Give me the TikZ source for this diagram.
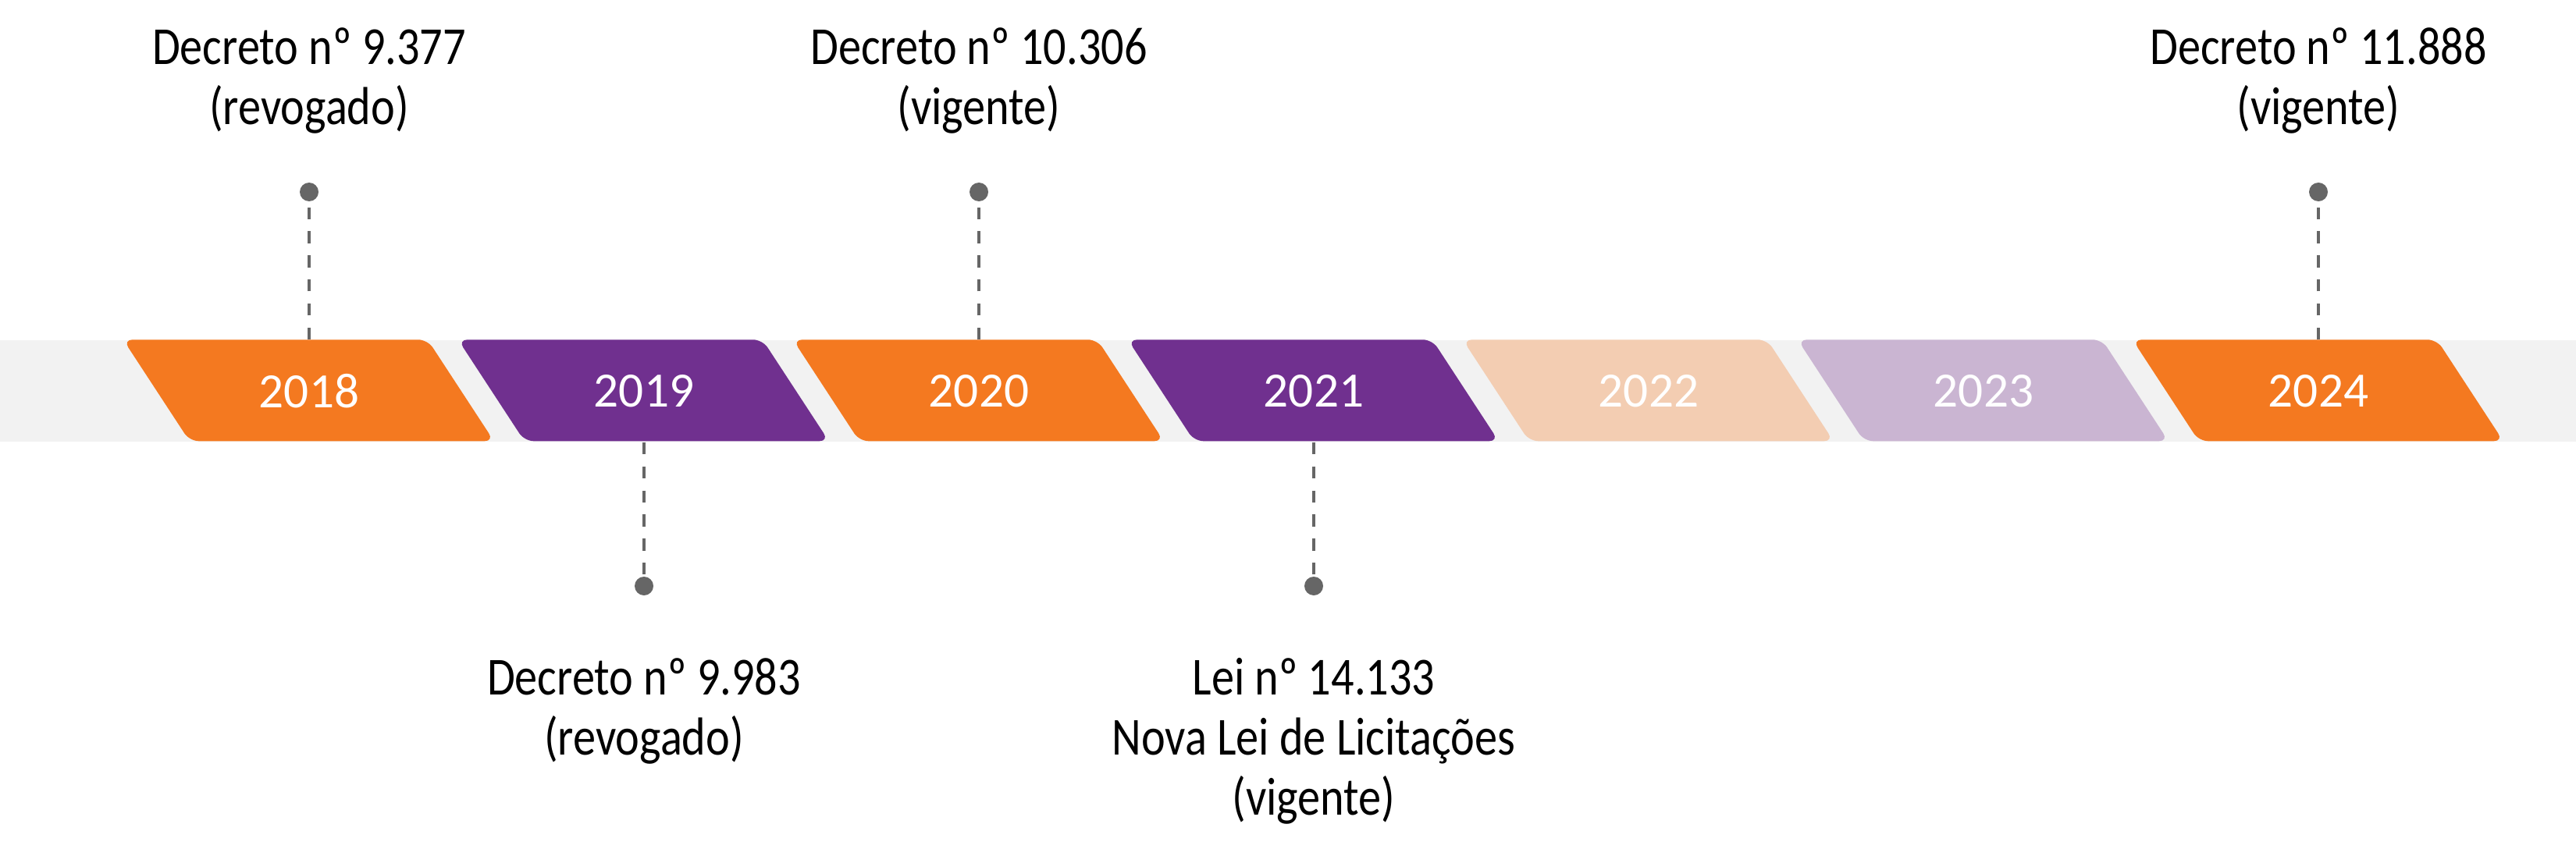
\documentclass[tikz,border=0pt]{standalone}
\usepackage{fontspec}
\usepackage{tikz}
\usetikzlibrary{backgrounds,positioning}
\newfontfamily\yearfont{Carlito}
\newfontfamily\notefont[FakeStretch=0.85]{Carlito}
\definecolor{lawOrange}{HTML}{F47920}
\definecolor{lawPurple}{HTML}{70308F}
\definecolor{paleOrange}{HTML}{F3CDB2}
\definecolor{palePurple}{HTML}{CAB5D2}
\definecolor{bandGray}{HTML}{F2F2F2}
\definecolor{pinGray}{HTML}{666666}
\tikzset{%
	yearbox/.style   = {rectangle, minimum width=3.9cm, minimum height=1.3cm, inner sep=0pt, text=white, font=\yearfont\fontsize{18}{20}\selectfont}, % year label
	yearshape/.style = {rounded corners=3.4pt}, % slanted tab
	pindot/.style    = {circle, fill=pinGray, inner sep=0pt, minimum size=0.24cm}, % dot
	leader/.style    = {draw=pinGray, line width=0.95pt, dash pattern=on 4.3pt off 4.5pt},
	notetext/.style  = {align=center, inner sep=0pt, text=black, font=\notefont\fontsize{19.5}{21.9}\selectfont},
}

\begin{document}
\begin{tikzpicture}[node distance=4.29cm]
	\useasboundingbox (0,0) rectangle (33,10.96);
	\node [yearbox] (y2018) at (3.96,5.95) {2018};
	\node [yearbox] (y2019) [right of=y2018] {2019};
	\node [yearbox] (y2020) [right of=y2019] {2020};
	\node [yearbox] (y2021) [right of=y2020] {2021};
	\node [yearbox] (y2022) [right of=y2021] {2022};
	\node [yearbox] (y2023) [right of=y2022] {2023};
	\node [yearbox] (y2024) [right of=y2023] {2024};
	
	\node [pindot] (d2018) [above of=y2018,node distance=2.55cm] {};
	\node [pindot] (d2019) [below of=y2019,node distance=2.50cm] {};
	\node [pindot] (d2020) [above of=y2020,node distance=2.55cm] {};
	\node [pindot] (d2021) [below of=y2021,node distance=2.50cm] {};
	\node [pindot] (d2024) [above of=y2024,node distance=2.55cm] {};
	
	\node [notetext] (n2018) [above of=d2018,node distance=0.74cm,anchor=south] {Decreto nº 9.377\\(revogado)};
	\node [notetext] (n2019) [below of=d2019,node distance=0.92cm,anchor=north] {Decreto nº 9.983\\(revogado)};
	\node [notetext] (n2020) [above of=d2020,node distance=0.74cm,anchor=south] {Decreto nº 10.306\\(vigente)};
	\node [notetext] (n2021) [below of=d2021,node distance=0.92cm,anchor=north] {Lei nº 14.133\\Nova Lei de Licitações\\(vigente)};
	\node [notetext] (n2024) [above of=d2024,node distance=0.74cm,anchor=south] {Decreto nº 11.888\\(vigente)};
	
	\draw [leader] (y2018.north) -- (d2018);
	\draw [leader] (y2019.south) -- (d2019);
	\draw [leader] (y2020.north) -- (d2020);
	\draw [leader] (y2021.south) -- (d2021);
	\draw [leader] (y2024.north) -- (d2024);
	
	\begin{scope}[on background layer]
		\fill [bandGray] (0,5.30) rectangle (33,6.60);
		\fill [yearshape,lawOrange] ([xshift=-0.425cm]y2018.north west) -- ++(3.9,0) -- ++(0.85,-1.3) -- ++(-3.9,0) -- cycle;
		\fill [yearshape,lawPurple] ([xshift=-0.425cm]y2019.north west) -- ++(3.9,0) -- ++(0.85,-1.3) -- ++(-3.9,0) -- cycle;
		\fill [yearshape,lawOrange] ([xshift=-0.425cm]y2020.north west) -- ++(3.9,0) -- ++(0.85,-1.3) -- ++(-3.9,0) -- cycle;
		\fill [yearshape,lawPurple] ([xshift=-0.425cm]y2021.north west) -- ++(3.9,0) -- ++(0.85,-1.3) -- ++(-3.9,0) -- cycle;
		\fill [yearshape,paleOrange] ([xshift=-0.425cm]y2022.north west) -- ++(3.9,0) -- ++(0.85,-1.3) -- ++(-3.9,0) -- cycle;
		\fill [yearshape,palePurple] ([xshift=-0.425cm]y2023.north west) -- ++(3.9,0) -- ++(0.85,-1.3) -- ++(-3.9,0) -- cycle;
		\fill [yearshape,lawOrange] ([xshift=-0.425cm]y2024.north west) -- ++(3.9,0) -- ++(0.85,-1.3) -- ++(-3.9,0) -- cycle;
	\end{scope}
\end{tikzpicture}
\end{document}
